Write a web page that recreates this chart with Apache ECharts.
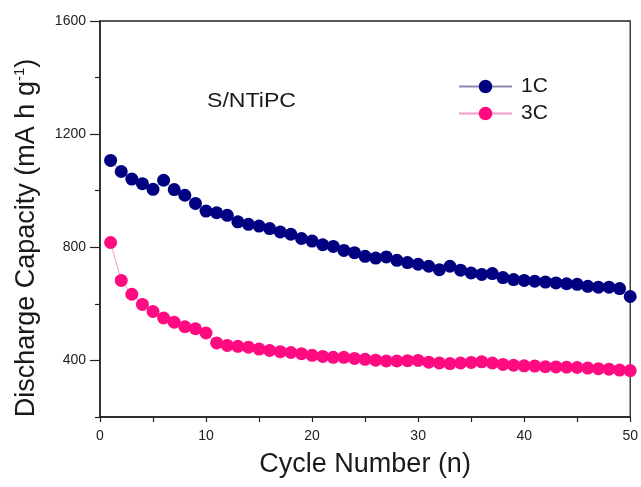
<!DOCTYPE html>
<html>
<head>
<meta charset="utf-8">
<script src="https://cdn.jsdelivr.net/npm/echarts@6/dist/echarts.min.js"></script>
<style>html,body{margin:0;padding:0;background:#fff}#c{width:641px;height:487px}</style>
</head>
<body>
<div id="c"></div>
<script>
const cycles = Array.from({length: 50}, (_, i) => i + 1);
const cap1C = [1107,1068,1041,1025,1005,1037,1004,984,955,928,
  922,913,890,881,875,866,854,846,831,822,
  809,803,789,781,768,762,766,754,746,740,
  733,721,733,719,709,704,707,693,686,683,
  680,677,674,671,669,662,659,659,654,626];
const cap3C = [817,683,634,598,573,550,535,519,512,497,
  462,453,450,447,440,435,431,428,424,418,
  414,411,411,407,404,401,398,398,399,400,
  394,391,389,391,393,395,391,386,383,381,
  380,378,377,376,375,373,371,369,366,364];
const yLabels = [400, 800, 1200, 1600];
const yMinorTicks = [200, 600, 1000, 1400];
const xLabels = [0, 10, 20, 30, 40, 50];

const chart = echarts.init(document.getElementById('c'));
const font = 'Arial, "Liberation Sans", sans-serif';
const ink = '#1a1a1a';
chart.setOption({
  animation: false,
  backgroundColor: '#fff',
  grid: {left: 100, right: 9, top: 21, bottom: 70, show: true, borderColor: '#222', borderWidth: 1.3, backgroundColor: 'transparent'},
  legend: {
    data: ['1C', '3C'], orient: 'vertical', left: 458, top: 76, padding: 0,
    itemWidth: 53, itemHeight: 17, itemGap: 6,
    textStyle: {fontSize: 21, color: ink, fontFamily: font, padding: [0,0,0,4]}
  },
  graphic: [
    {type: 'text', x: 207, y: 101, scaleX: 1.1,
      style: {text: 'S/NTiPC', fontSize: 21, fill: ink, fontFamily: font, textVerticalAlign: 'middle'}},
    {type: 'text', x: 27, y: 238, rotation: Math.PI / 2,
      style: {
        text: '{a|Discharge Capacity (mA h g}{s|-1}{a|)}',
        align: 'center', verticalAlign: 'middle',
        rich: {
          a: {fontSize: 27, fill: ink, fontFamily: font},
          s: {fontSize: 15, fill: ink, fontFamily: font, verticalAlign: 'top', padding: [0,0,14,0]}
        }
      }}
  ],
  xAxis: {
    type: 'value', min: 0, max: 50, interval: 5,
    name: 'Cycle Number (n)', nameLocation: 'middle', nameGap: 34,
    nameTextStyle: {fontSize: 27, color: ink, fontFamily: font},
    axisLine: {lineStyle: {color: '#222', width: 1.5}},
    axisTick: {show: true, length: 5, inside: false, lineStyle: {color: '#222', width: 1.2}},
    axisLabel: {fontSize: 14, color: '#222', fontFamily: font, margin: 12,
      formatter: v => xLabels.includes(v) ? String(v) : ''},
    splitLine: {show: false}
  },
  yAxis: [{
    type: 'value', min: 200, max: 1600, interval: 200,
    axisLine: {show: true, lineStyle: {color: '#222', width: 1.5}},
    axisTick: {show: true, length: 10, inside: false, customValues: yLabels, lineStyle: {color: '#222', width: 1.2}},
    axisLabel: {fontSize: 14, color: '#222', fontFamily: font, margin: 14,
      formatter: v => yLabels.includes(v) ? String(v) : ''},
    splitLine: {show: false}
  }, {
    type: 'value', min: 200, max: 1600, interval: 200, position: 'left',
    axisLine: {show: false},
    axisTick: {show: true, length: 5, inside: false, customValues: yMinorTicks, lineStyle: {color: '#222', width: 1.2}},
    axisLabel: {show: false},
    splitLine: {show: false}
  }],
  series: [
    {name: '1C', type: 'line', data: cycles.map((c, i) => [c, cap1C[i]]),
      symbol: 'circle', symbolSize: 13, color: '#000080',
      lineStyle: {width: 1, color: '#8a8ab4'}, itemStyle: {color: '#000080'}, clip: true},
    {name: '3C', type: 'line', data: cycles.map((c, i) => [c, cap3C[i]]),
      symbol: 'circle', symbolSize: 13, color: '#ff0a80',
      lineStyle: {width: 1, color: '#f59ac6'}, itemStyle: {color: '#ff0a80'}, clip: true}
  ]
});
</script>
</body>
</html>
